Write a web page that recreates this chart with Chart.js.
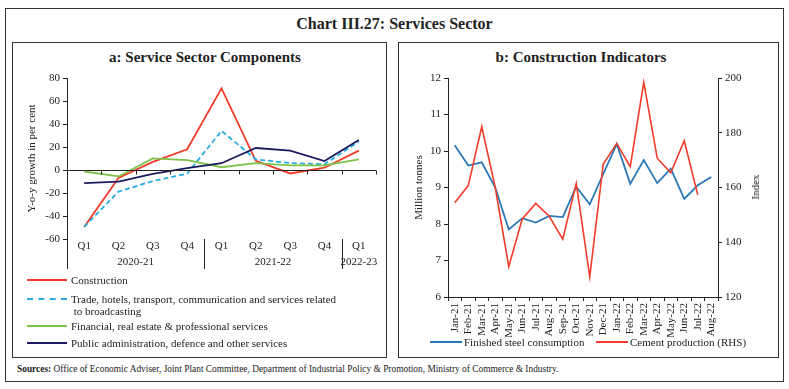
<!DOCTYPE html>
<html>
<head>
<meta charset="utf-8">
<script src="https://cdn.jsdelivr.net/npm/chart.js@4.4.0/dist/chart.umd.min.js"></script>
<style>
  body { margin: 0; width: 789px; height: 389px; background: #fff; position: relative; overflow: hidden;
         font-family: "Liberation Serif", serif; color: #222; }
  .box { position: absolute; border: 1px solid #333; box-sizing: border-box; }
  .abs { position: absolute; white-space: nowrap; }
  .ttl { font-weight: bold; }
  .lg { position: absolute; font-size: 11px; line-height: 12px; white-space: nowrap; }
  .sw { position: absolute; height: 0; }
  canvas { position: absolute; }
</style>
</head>
<body>
<div class="box" style="left:5px;top:8px;width:779px;height:374px"></div>
<div class="abs ttl" style="left:0;width:789px;top:15px;text-align:center;font-size:16px">Chart III.27: Services Sector</div>

<div class="box" style="left:12px;top:42px;width:375px;height:316px"></div>
<div class="box" style="left:398px;top:42px;width:381px;height:316px"></div>

<div class="abs ttl" style="left:105px;width:200px;top:49px;text-align:center;font-size:15px">a: Service Sector Components</div>
<div class="abs ttl" style="left:481px;width:200px;top:49px;text-align:center;font-size:15px">b: Construction Indicators</div>

<canvas id="left" width="372" height="206" style="left:13px;top:68px;width:372px;height:206px"></canvas>
<canvas id="right" width="378" height="272" style="left:399px;top:68px;width:378px;height:272px"></canvas>

<div class="abs" style="font-size:11px;transform:translate(-50%,-50%) rotate(-90deg);transform-origin:center;left:755px;top:187px">Index</div>

<!-- left legend -->
<div class="sw" style="left:27px;top:279px;width:40px;border-top:2px solid #f03c28"></div>
<div class="lg" style="left:71px;top:274px">Construction</div>
<div class="sw" style="left:27px;top:298px;width:40px;border-top:2px dashed #29abe2"></div>
<div class="lg" style="left:71px;top:293px">Trade, hotels, transport, communication and services related<br>&nbsp;to broadcasting</div>
<div class="sw" style="left:27px;top:325px;width:40px;border-top:2px solid #7dc24b"></div>
<div class="lg" style="left:71px;top:320px">Financial, real estate &amp; professional services</div>
<div class="sw" style="left:27px;top:342px;width:40px;border-top:2px solid #1c1a5e"></div>
<div class="lg" style="left:71px;top:337px">Public administration, defence and other services</div>

<!-- right legend -->
<div class="sw" style="left:430px;top:341px;width:32px;border-top:2px solid #2a78b8"></div>
<div class="lg" style="left:464px;top:336px">Finished steel consumption</div>
<div class="sw" style="left:596px;top:341px;width:32px;border-top:2px solid #f03c28"></div>
<div class="lg" style="left:630px;top:336px">Cement production (RHS)</div>

<div class="abs" style="left:17px;top:364px;font-size:9.4px"><b>Sources:</b> Office of Economic Adviser, Joint Plant Committee, Department of Industrial Policy &amp; Promotion, Ministry of Commerce &amp; Industry.</div>

<script>
// panel a: quarterly y-o-y growth
const quarters = ['Q1', 'Q2', 'Q3', 'Q4', 'Q1', 'Q2', 'Q3', 'Q4', 'Q1'];
const yearLabels = ['2020-21', '2021-22', '2022-23'];
const yearSpans = [4, 4, 1];
const construction = [-49.5, -7, 7, 18, 71, 8, -3, 2, 16.8];
const trade = [-49.5, -18.8, -9.6, -3.2, 34, 9.3, 6, 5, 24.8];
const financial = [-1.3, -5.6, 10.1, 8.6, 2.4, 5.9, 4, 4, 9.3];
const publicAdmin = [-11.5, -10.1, -3.3, 1.6, 5.9, 19.1, 16.8, 7.8, 26];

// panel b: monthly construction indicators
const months = ['Jan-21', 'Feb-21', 'Mar-21', 'Apr-21', 'May-21', 'Jun-21', 'Jul-21', 'Aug-21', 'Sep-21', 'Oct-21',
  'Nov-21', 'Dec-21', 'Jan-22', 'Feb-22', 'Mar-22', 'Apr-22', 'May-22', 'Jun-22', 'Jul-22', 'Aug-22'];
const steel = [10.16, 9.6, 9.69, 9.0, 7.85, 8.16, 8.04, 8.22, 8.19, 9.02,
  8.54, 9.37, 10.19, 9.1, 9.75, 9.12, 9.52, 8.69, 9.06, 9.29];
const cement = [154.4, 160.7, 182.2, 160, 131.1, 148.5, 154.2, 149.5, 141.1, 161.5,
  127.4, 168.6, 176.1, 167.6, 198.4, 170.7, 165.4, 177.1, 157.3, null];

const FONT = { family: '"Liberation Serif", serif', size: 11 };
const INK = '#222';

function line(label, data, color, extra) {
  return Object.assign({ label: label, data: data, borderColor: color, backgroundColor: color,
    borderWidth: 1.8, pointRadius: 0, tension: 0, fill: false }, extra || {});
}

// zero line, its little ticks, the financial-year separators and labels
const yearBands = {
  id: 'yearBands',
  afterDraw(chart) {
    const { ctx, chartArea, scales: { x, y } } = chart;
    const half = (x.getPixelForValue(1) - x.getPixelForValue(0)) / 2;
    const zero = Math.round(y.getPixelForValue(0)) + 0.5;
    ctx.save();
    ctx.strokeStyle = INK;
    ctx.lineWidth = 1;
    ctx.beginPath();
    ctx.moveTo(chartArea.left, zero);
    ctx.lineTo(chartArea.right, zero);
    for (let i = 0; i < quarters.length; i++) {
      const px = Math.round(x.getPixelForValue(i) + half) + 0.5;
      ctx.moveTo(px, zero);
      ctx.lineTo(px, zero + 4);
    }
    ctx.stroke();

    ctx.fillStyle = INK;
    ctx.font = '11px "Liberation Serif", serif';
    ctx.textAlign = 'center';
    ctx.textBaseline = 'middle';
    let start = 0;
    yearLabels.forEach((lab, k) => {
      const px = Math.round(x.getPixelForValue(start) - half) + 0.5;
      ctx.beginPath();
      ctx.moveTo(px, chartArea.bottom);
      ctx.lineTo(px, chartArea.bottom + 30);
      ctx.stroke();
      const mid = (x.getPixelForValue(start) + x.getPixelForValue(start + yearSpans[k] - 1)) / 2;
      ctx.fillText(lab, mid, chartArea.bottom + 23);
      start += yearSpans[k];
    });
    ctx.restore();
  }
};

new Chart(document.getElementById('left'), {
  type: 'line',
  data: {
    labels: quarters,
    datasets: [
      line('Public administration, defence and other services', publicAdmin, '#1c1a5e'),
      line('Financial, real estate & professional services', financial, '#7dc24b'),
      line('Trade, hotels, transport, communication and services related to broadcasting', trade, '#29abe2', { borderDash: [5, 3] }),
      line('Construction', construction, '#f03c28')
    ]
  },
  options: {
    responsive: false,
    animation: false,
    layout: { padding: { top: 10, right: 9, left: 0, bottom: 0 } },
    plugins: { legend: { display: false }, tooltip: { enabled: false } },
    scales: {
      x: {
        offset: true,
        grid: { display: false, drawTicks: false },
        border: { display: false },
        ticks: { font: FONT, color: INK, padding: 1, maxRotation: 0 },
        afterFit: (s) => { s.height = 35; }
      },
      y: {
        min: -60, max: 80,
        ticks: { stepSize: 20, font: FONT, color: INK, padding: 3 },
        grid: { drawOnChartArea: false, tickLength: 4, color: INK },
        border: { display: true, color: INK },
        title: { display: true, text: 'Y-o-y growth in per cent', font: FONT, color: INK, padding: { top: 13, bottom: 0 } },
        afterFit: (s) => { s.width = 54; }
      }
    }
  },
  plugins: [yearBands]
});

new Chart(document.getElementById('right'), {
  type: 'line',
  data: {
    labels: months,
    datasets: [
      line('Cement production (RHS)', cement, '#f03c28', { yAxisID: 'y1', borderWidth: 1.6 }),
      line('Finished steel consumption', steel, '#2a78b8', { yAxisID: 'y', borderWidth: 1.8 })
    ]
  },
  options: {
    responsive: false,
    animation: false,
    layout: { padding: { top: 10, right: 0, left: 0, bottom: 0 } },
    plugins: { legend: { display: false }, tooltip: { enabled: false } },
    scales: {
      x: {
        offset: true,
        grid: { offset: true, drawOnChartArea: false, tickLength: 4, color: INK },
        border: { display: true, color: INK },
        ticks: { font: FONT, color: INK, padding: 2, minRotation: 90, maxRotation: 90, autoSkip: false },
        afterFit: (s) => { s.height = 43; }
      },
      y: {
        position: 'left',
        min: 6, max: 12,
        ticks: { stepSize: 1, font: FONT, color: INK, padding: 3 },
        grid: { drawOnChartArea: false, tickLength: 4, color: INK },
        border: { display: true, color: INK },
        title: { display: true, text: 'Million tonnes', font: FONT, color: INK, padding: { top: 14, bottom: 0 } },
        afterFit: (s) => { s.width = 49; }
      },
      y1: {
        position: 'right',
        min: 120, max: 200,
        ticks: { stepSize: 20, font: FONT, color: INK, padding: 3 },
        grid: { drawOnChartArea: false, tickLength: 4, color: INK },
        border: { display: true, color: INK },
        afterFit: (s) => { s.width = 59; }
      }
    }
  }
});
</script>
</body>
</html>
